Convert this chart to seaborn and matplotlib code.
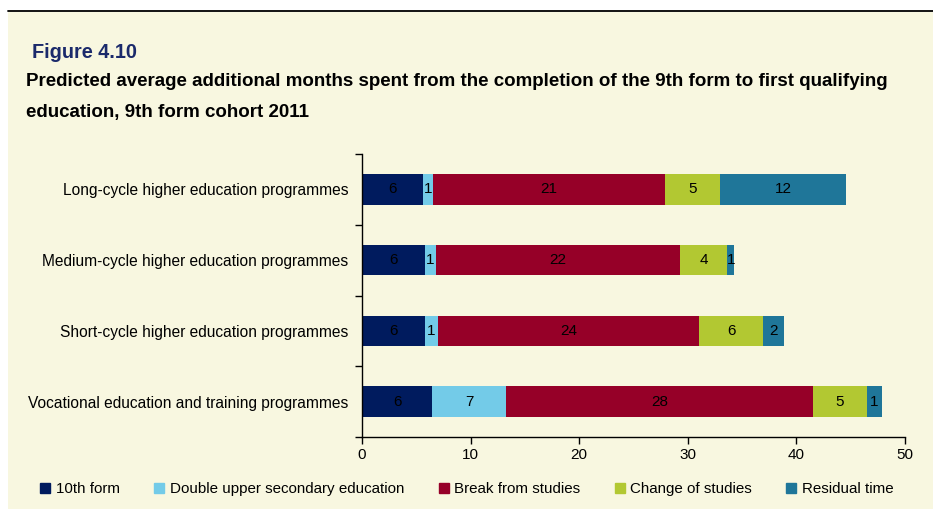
import numpy as np
import pandas as pd
import matplotlib
matplotlib.use("Agg")
import matplotlib.pyplot as plt
from matplotlib.lines import Line2D
import seaborn as sns

programmes = [
    "Long-cycle higher education programmes",
    "Medium-cycle higher education programmes",
    "Short-cycle higher education programmes",
    "Vocational education and training programmes",
]
components = ["10th form", "Double upper secondary education", "Break from studies",
              "Change of studies", "Residual time"]

# months per component
tenth_form = [5.66, 5.76, 5.76, 6.48]
double_upper = [0.86, 1.05, 1.28, 6.82]
break_studies = [21.39, 22.45, 24.0, 28.2]
change_studies = [5.04, 4.35, 5.89, 5.0]
residual = [11.65, 0.69, 1.97, 1.35]

colors = ["#001b5e", "#73cbe8", "#960028", "#b2c832", "#1f7699"]
bg = "#f8f7e0"

sns.set_theme(style="white")
plt.rcParams["font.family"] = ["Liberation Sans", "DejaVu Sans"]
plt.rcParams["font.size"] = 10.5
plt.rcParams["text.color"] = "black"
plt.rcParams["xtick.color"] = "black"
plt.rcParams["ytick.color"] = "black"
plt.rcParams["xtick.labelcolor"] = "black"
plt.rcParams["ytick.labelcolor"] = "black"

vals = pd.DataFrame(
    dict(zip(components, [tenth_form, double_upper, break_studies, change_studies, residual])),
    index=programmes,
)
cum = vals.cumsum(axis=1)

fig = plt.figure(figsize=(9.33, 5.11), dpi=100)
fig.patch.set_facecolor("white")
# cream panel with a rule on top
panel = plt.Rectangle((8 / 933, 0.003), 1, 1 - 12 / 511 - 0.003, transform=fig.transFigure,
                      facecolor=bg, edgecolor="none", zorder=-10)
fig.add_artist(panel)
fig.add_artist(Line2D([8 / 933, 1], [1 - 11 / 511] * 2, transform=fig.transFigure,
                      color="black", lw=1.3))

ax = fig.add_axes([362 / 933, 1 - 437 / 511, (905 - 362) / 933, (437 - 154) / 511])
ax.set_zorder(5)
ax.set_facecolor(bg)

# stacked bars: draw cumulative totals from the outermost segment inward
for comp, col in reversed(list(zip(components, colors))):
    d = pd.DataFrame({"programme": programmes, "months": cum[comp].values})
    sns.barplot(data=d, x="months", y="programme", orient="h", color=col,
                width=0.43, ax=ax, saturation=1, edgecolor="none")

for i, prog in enumerate(programmes):
    for comp in components:
        v = vals.loc[prog, comp]
        ax.text(cum.loc[prog, comp] - v / 2, i, f"{v:.0f}", ha="center", va="center",
                color="black", fontsize=11)

ax.set_xlim(0, 50)
ax.set_ylim(3.5, -0.5)
ax.set_xticks(np.arange(0, 51, 10))
ax.set_xlabel("")
ax.set_ylabel("")
ax.set_yticks(range(len(programmes)))
ax.set_yticklabels(programmes, fontsize=11.2)
ax.set_yticks(np.arange(-0.5, 4, 1), minor=True)
ax.tick_params(axis="y", which="major", length=0, pad=10)
ax.tick_params(axis="y", which="minor", length=5, width=1, color="black", direction="out", left=True)
ax.tick_params(axis="x", length=5, width=1, color="black", direction="out", bottom=True, labelsize=11, pad=3)
for s in ["top", "right"]:
    ax.spines[s].set_visible(False)
for s in ["left", "bottom"]:
    ax.spines[s].set_color("black")
    ax.spines[s].set_linewidth(1)

fig.text(32 / 933, 1 - 52 / 511, "Figure 4.10", color="#1b2a6b", fontsize=14.3,
         fontweight="bold", va="center")
fig.text(26 / 933, 1 - 82 / 511, "Predicted average additional months spent from the completion "
         "of the 9th form to first qualifying", fontsize=13.5, fontweight="bold", va="center")
fig.text(26 / 933, 1 - 112 / 511, "education, 9th form cohort 2011", fontsize=13.5,
         fontweight="bold", va="center")

handles = [Line2D([], [], marker="s", ls="none", color=c, markersize=7) for c in colors]
fig.legend(handles, components, loc="center", bbox_to_anchor=(0.5, 1 - 489 / 511), ncol=5,
           frameon=False, fontsize=10.9, handlelength=0.8, handletextpad=0.3, columnspacing=2.2)

fig.savefig("out.png", dpi=100, facecolor=fig.get_facecolor())
